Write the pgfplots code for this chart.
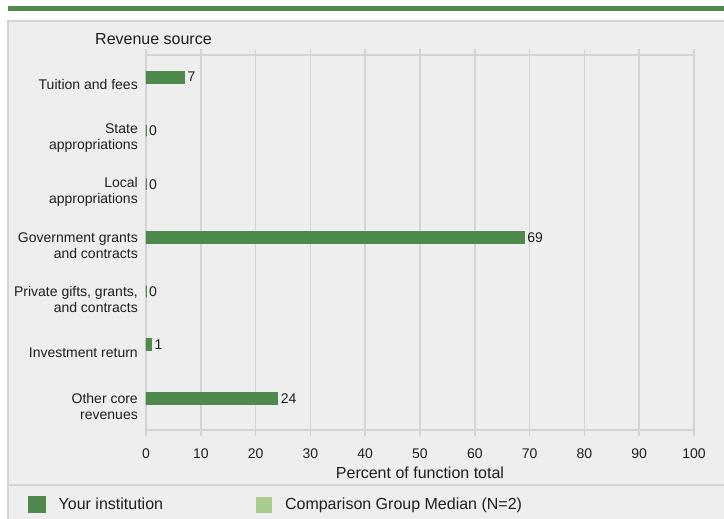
\documentclass[border=0pt]{standalone}
\usepackage{pgfplots}
\pgfplotsset{compat=1.18}
\usepackage{fontspec}
\setmainfont{Liberation Sans}

\definecolor{bargreen}{HTML}{4E8A4C}
\definecolor{lightgreen}{HTML}{A9CC8E}
\definecolor{panelgray}{HTML}{EEEEEE}
\definecolor{linegray}{HTML}{D4D4D4}
\definecolor{txt}{HTML}{1E1E1E}

\newcommand{\lab}{\fontsize{14}{16}\selectfont}
\newcommand{\labbig}{\fontsize{16}{18}\selectfont}

\begin{document}
\begin{tikzpicture}[x=1pt,y=1pt]
% page frame and panel
\useasboundingbox (0,0) rectangle (724,519);
\fill[white] (0,0) rectangle (724,519);
\fill[bargreen] (8,508) rectangle (724,513);
\fill[panelgray] (8,0) rectangle (724,498);
\draw[linegray, line width=1.5pt] (8,0) -- (8,498) -- (724,498);
\draw[linegray, line width=2pt] (8,33.5) -- (724,33.5);
\node[anchor=base west, inner sep=0pt, text=txt, font=\labbig] at (95,474) {Revenue source};

\begin{axis}[
    at={(146pt,89pt)}, anchor=south west,
    scale only axis, width=548pt, height=375pt,
    xbar, bar width=11.5pt,
    xmin=0, xmax=100, ymin=-0.5, ymax=6.5,
    xtick={0,10,...,100},
    ytick={0,1,...,6},
    yticklabels={{Other core\\revenues}, {Investment return}, {Private gifts, grants,\\and contracts}, {Government grants\\and contracts}, {Local\\appropriations}, {State\\appropriations}, {Tuition and fees}},
    yticklabel style={align=right, anchor=east, inner sep=0pt, xshift=-2pt, yshift=-3pt, font=\lab, text=txt},
    xticklabel style={font=\lab, text=txt, yshift=-9pt},
    /pgf/number format/assume math mode=true,
    tick align=outside, major tick length=6pt,
    xtick style={linegray, line width=1.5pt},
    ytick style={draw=none},
    xmajorgrids, grid style={linegray, line width=1.5pt},
    axis line style={linegray, line width=1.5pt},
    xlabel={Percent of function total},
    xlabel style={font=\labbig, text=txt, at={(axis description cs:0.5,0)}, anchor=center, yshift=-43pt},
    nodes near coords,
    nodes near coords style={anchor=west, inner sep=0pt, xshift=2.5pt, font=\lab, text=txt},
    legend columns=2,
    legend style={at={(axis description cs:-0.2153,-0.1987)}, anchor=west, draw=none, fill=none,
        inner sep=0pt, font=\labbig, text=txt, nodes={inner sep=0pt},
        /tikz/every odd column/.append style={column sep=13pt},
        /tikz/every even column/.append style={column sep=93pt}},
    legend image code/.code={\fill[#1] (0pt,-8pt) rectangle (16pt,8pt);},
]
\addplot[fill=bargreen, draw=bargreen, line width=1.5pt, bar shift=4.7pt] coordinates {
    (24,0) (1,1) (0,2) (69,3) (0,4) (0,5) (7,6)
};
\addlegendentry{Your institution}
\addlegendimage{fill=lightgreen, draw=none}
\addlegendentry{Comparison Group Median (N=2)}
\end{axis}
\end{tikzpicture}
\end{document}
